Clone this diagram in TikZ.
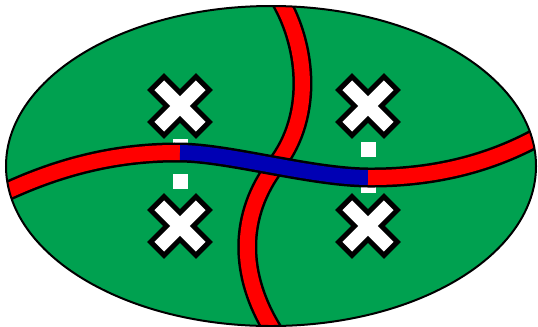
\documentclass[tikz,border=0pt]{standalone}
\usepackage{tikz}

\definecolor{fieldgreen}{RGB}{0,161,80}
\definecolor{roadred}{RGB}{255,0,0}
\definecolor{roadblue}{RGB}{0,0,180}

\tikzset{every picture/.style={line width=0.75pt}}
\tikzset{
  roadcase/.style={draw=black, line width=15pt},
  roadfill/.style={line width=11.25pt},
  crossshape/.style={fill=white, draw=black, line width=3.75pt, line join=miter},
  marker/.style={fill=white, draw=none},
}

\begin{document}
\begin{tikzpicture}[x=0.75pt,y=0.75pt,yscale=-1,xscale=1]
\useasboundingbox (0,0) rectangle (538,326);

%Shape: Ellipse
\fill [fieldgreen] (271,166) ellipse (265 and 160);

%Shape: Square
\fill [marker] (172.5,139) rectangle (187.5,154);
%Shape: Square
\fill [marker] (172.5,173.5) rectangle (187.5,188.5);
%Shape: Square
\fill [marker] (360.5,142) rectangle (375.5,157);
%Shape: Square
\fill [marker] (360.5,178) rectangle (375.5,193);

\begin{scope}
\clip (271,166) ellipse (265 and 160);
%Curve Lines
\draw [roadcase]  (277,-5) .. controls (307,42) and (315,115) .. (276,165) .. controls (238,215) and (238,275) .. (274,332) ;
\draw [roadfill, roadred]  (277,-5) .. controls (307,42) and (315,115) .. (276,165) .. controls (238,215) and (238,275) .. (274,332) ;
%Curve Lines
\draw [roadcase]  (-5,197) .. controls (60,165) and (120,152) .. (180,152.5) .. controls (230,153) and (310,177) .. (368,177.5) .. controls (430,178) and (490,165) .. (545,133) ;
\draw [roadfill, roadred]  (-5,197) .. controls (60,165) and (120,152) .. (180,152.5) ;
\draw [roadfill, roadblue]  (180,152.5) .. controls (230,153) and (310,177) .. (368,177.5) ;
\draw [roadfill, roadred]  (368,177.5) .. controls (430,178) and (490,165) .. (545,133) ;
\end{scope}

%Shape: Ellipse
\draw [line width=1.5] (271,166) ellipse (265 and 160);

%Shape: Cross
\draw [crossshape, shift={(180,106)}, rotate=45] (9.5,9.5) -- (32,9.5) -- (32,-9.5) -- (9.5,-9.5) -- (9.5,-32) -- (-9.5,-32) -- (-9.5,-9.5) -- (-32,-9.5) -- (-32,9.5) -- (-9.5,9.5) -- (-9.5,32) -- (9.5,32) -- cycle ;
%Shape: Cross
\draw [crossshape, shift={(368,106)}, rotate=45] (9.5,9.5) -- (32,9.5) -- (32,-9.5) -- (9.5,-9.5) -- (9.5,-32) -- (-9.5,-32) -- (-9.5,-9.5) -- (-32,-9.5) -- (-32,9.5) -- (-9.5,9.5) -- (-9.5,32) -- (9.5,32) -- cycle ;
%Shape: Cross
\draw [crossshape, shift={(180,226)}, rotate=45] (9.5,9.5) -- (32,9.5) -- (32,-9.5) -- (9.5,-9.5) -- (9.5,-32) -- (-9.5,-32) -- (-9.5,-9.5) -- (-32,-9.5) -- (-32,9.5) -- (-9.5,9.5) -- (-9.5,32) -- (9.5,32) -- cycle ;
%Shape: Cross
\draw [crossshape, shift={(368,226)}, rotate=45] (9.5,9.5) -- (32,9.5) -- (32,-9.5) -- (9.5,-9.5) -- (9.5,-32) -- (-9.5,-32) -- (-9.5,-9.5) -- (-32,-9.5) -- (-32,9.5) -- (-9.5,9.5) -- (-9.5,32) -- (9.5,32) -- cycle ;

\end{tikzpicture}
\end{document}
